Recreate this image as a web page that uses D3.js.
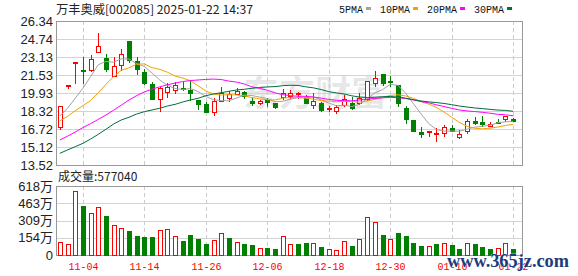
<!DOCTYPE html>
<html>
<head>
<meta charset="utf-8">
<script src="https://cdn.jsdelivr.net/npm/d3@7"></script>
<style>
  body { margin: 0; background: #fff; }
</style>
</head>
<body>
<div id="chart"></div>
<script>
// trading days shown on the K-line (60 sessions)
var dates = ["10-30","10-31","11-01","11-04","11-05","11-06","11-07","11-08","11-11","11-12",
  "11-13","11-14","11-15","11-18","11-19","11-20","11-21","11-22","11-25","11-26",
  "11-27","11-28","11-29","12-02","12-03","12-04","12-05","12-06","12-09","12-10",
  "12-11","12-12","12-13","12-16","12-17","12-18","12-19","12-20","12-23","12-24",
  "12-25","12-26","12-27","12-30","12-31","01-02","01-03","01-06","01-07","01-08",
  "01-09","01-10","01-13","01-14","01-15","01-16","01-17","01-20","01-21","01-22"];

var open = [16.88,20.55,22.60,22.00,21.95,23.62,23.02,21.47,22.42,24.55,
  22.78,21.77,20.73,19.37,19.99,20.20,20.37,20.20,19.31,18.95,
  18.21,19.25,19.51,19.81,20.05,19.25,19.01,19.31,19.01,19.60,
  19.66,19.87,19.60,18.89,19.07,18.55,18.36,18.86,19.07,19.01,
  19.40,20.85,21.59,20.97,20.61,18.57,17.53,16.42,16.43,16.38,
  16.34,16.79,15.98,16.55,17.47,17.38,17.02,17.35,17.59,17.62];
var high = [18.74,20.61,22.67,23.11,23.31,25.24,23.40,23.16,23.85,24.58,
  23.11,22.04,20.88,20.49,20.85,20.88,20.94,21.03,19.35,19.10,
  19.46,20.44,20.14,20.35,20.14,19.46,19.31,19.46,19.05,20.29,
  20.20,20.05,19.75,19.90,19.10,18.78,18.86,19.75,19.60,19.96,
  21.00,21.89,21.62,21.40,20.61,18.77,17.55,16.88,16.57,16.79,
  17.08,17.08,16.64,17.59,17.77,17.88,17.32,17.59,17.90,17.74];
var low = [16.70,20.35,20.85,20.85,21.89,23.60,21.89,21.45,21.98,22.72,
  21.59,20.70,19.40,18.35,19.60,19.90,20.20,19.31,18.48,18.25,
  17.97,19.25,19.25,19.81,19.46,18.86,18.95,18.78,18.57,19.37,
  19.46,19.46,19.05,18.57,18.36,18.36,18.18,18.80,18.50,18.95,
  19.31,20.55,20.60,20.55,18.80,17.23,16.55,16.04,16.13,15.68,
  16.10,16.55,15.96,16.34,17.17,16.99,17.02,17.26,17.47,17.47];
var close = [18.74,20.61,22.67,21.93,22.93,24.12,22.04,22.33,23.43,22.87,
  22.04,20.79,19.42,20.35,20.44,20.64,20.33,19.90,18.95,18.27,
  19.25,19.90,19.81,20.11,19.66,19.01,19.25,19.10,18.71,19.90,
  19.96,19.90,19.07,19.22,18.42,18.57,18.66,19.37,18.57,19.46,
  20.99,21.29,20.85,20.92,19.01,17.59,16.58,16.30,16.55,16.40,
  16.88,16.58,16.25,17.44,17.29,17.20,17.17,17.29,17.88,17.47];

// volume, in 万 (10k lots)
var volume = [119,98.5,573,439,373,433,349,266,239,215,
  170,161,161,221,230,167,128,179,143,98.5,
  134,197,152,116,98.5,89.6,60,63,54,170,
  98.5,98.5,107,107,72,51,45,125,81,143,
  340,296,179,143,197,170,107,81,78,98.5,
  107,90,54,107,98.5,72,54,60,107,57.704];

var ma5 = [17.88,18.57,19.46,20.35,21.38,22.45,22.74,22.67,22.97,22.96,
  22.54,22.29,21.71,21.09,20.61,20.33,20.24,20.33,20.05,19.62,
  19.34,19.25,19.24,19.47,19.75,19.70,19.57,19.43,19.15,19.19,
  19.38,19.51,19.51,19.61,19.31,19.04,18.79,18.85,18.72,18.93,
  19.41,19.94,20.23,20.70,20.61,19.93,18.99,18.08,17.21,16.68,
  16.54,16.54,16.53,16.71,16.89,16.96,17.07,17.28,17.37,17.40];
var ma10 = [17.45,17.85,18.35,18.80,19.25,19.95,20.70,21.40,21.95,22.17,
  22.50,22.52,22.19,22.03,21.78,21.44,21.26,21.02,20.57,20.11,
  19.83,19.75,19.78,19.76,19.68,19.52,19.41,19.33,19.31,19.47,
  19.54,19.54,19.47,19.38,19.25,19.21,19.15,19.18,19.16,19.12,
  19.22,19.36,19.54,19.71,19.77,19.67,19.46,19.16,18.95,18.65,
  18.24,17.77,17.31,16.96,16.79,16.74,16.80,16.90,17.04,17.14];
var ma20 = [15.75,16.08,16.45,16.85,17.20,17.58,17.97,18.40,18.85,19.30,
  19.70,20.02,20.28,20.48,20.66,20.82,20.95,21.04,21.09,21.14,
  21.17,21.13,20.99,20.90,20.73,20.48,20.34,20.18,19.94,19.79,
  19.69,19.64,19.63,19.57,19.47,19.36,19.28,19.25,19.24,19.30,
  19.38,19.45,19.50,19.54,19.51,19.44,19.31,19.17,19.06,18.88,
  18.73,18.56,18.42,18.33,18.28,18.21,18.13,18.03,17.99,17.90];
var ma30 = [14.56,14.86,15.15,15.45,15.83,16.25,16.70,17.17,17.53,17.77,
  18.06,18.27,18.42,18.57,18.77,18.92,19.13,19.31,19.46,19.69,
  19.84,19.96,20.08,20.20,20.26,20.35,20.42,20.47,20.50,20.58,
  20.62,20.60,20.48,20.39,20.24,20.05,19.94,19.84,19.68,19.57,
  19.53,19.55,19.60,19.62,19.57,19.47,19.34,19.22,19.14,19.08,
  19.00,18.89,18.77,18.68,18.60,18.54,18.47,18.41,18.38,18.30];

var priceTicks = ["26.34","24.74","23.13","21.53","19.93","18.32","16.72","15.12","13.52"];
var volTicks = ["618万","463万","309万","154万","0"];
var dateTicks = ["11-04","11-14","11-26","12-06","12-18","12-30","01-10","01-22"];
var maNames = ["5PMA","10PMA","20PMA","30PMA"];
var maColors = ["#a3a3a3","#f3a200","#ff00ff","#006e3a"];

var stockName = "万丰奥威[002085]";
var stamp = "2025-01-22 14:37";

var width = 578, height = 276;
var left = 56, right = 522;
var priceTop = 21, priceBottom = 165;
var volTop = 186, volBottom = 255;
var red = "#ff0000", green = "#008000";

var svg = d3.select("#chart").append("svg")
  .attr("width", width)
  .attr("height", height)
  .style("font-family", "'Liberation Sans', 'Noto Sans CJK SC', sans-serif");

var x = d3.scaleBand().domain(d3.range(dates.length)).range([left, 517]);
function cx(i) { return Math.round(x(i) + x.bandwidth() / 2); }

var priceVals = priceTicks.map(Number);
var y = d3.scaleLinear()
  .domain([d3.min(priceVals), d3.max(priceVals)])
  .range([priceBottom, priceTop]);

var volVals = volTicks.map(function (t) { return parseFloat(t); });
var yv = d3.scaleLinear()
  .domain([0, d3.max(volVals)])
  .range([volBottom, volTop]);

// watermark in the middle of the price panel
svg.append("text")
  .attr("x", 243).attr("y", 106)
  .attr("font-family", "'Noto Sans CJK SC'")
  .attr("font-weight", "bold")
  .attr("font-size", 35)
  .attr("fill", "#000")
  .attr("fill-opacity", 0.1)
  .attr("textLength", 144)
  .attr("lengthAdjust", "spacingAndGlyphs")
  .text("东方财富");

// horizontal grid
svg.append("g").selectAll("line")
  .data(priceVals.slice(1, -1))
  .enter().append("line")
  .attr("x1", left).attr("x2", right)
  .attr("y1", function (d) { return Math.round(y(d)) + 0.5; })
  .attr("y2", function (d) { return Math.round(y(d)) + 0.5; })
  .attr("stroke", "#d3d3d3");

svg.append("g").selectAll("line")
  .data(volVals.slice(1, -1))
  .enter().append("line")
  .attr("x1", left).attr("x2", right)
  .attr("y1", function (d) { return Math.round(yv(d)) + 0.5; })
  .attr("y2", function (d) { return Math.round(yv(d)) + 0.5; })
  .attr("stroke", "#d3d3d3");

// dashed date lines in both panels
var tickIdx = dateTicks.map(function (t) { return dates.indexOf(t); });
[[priceTop, priceBottom], [volTop, volBottom]].forEach(function (p) {
  svg.append("g").selectAll("line")
    .data(tickIdx)
    .enter().append("line")
    .attr("x1", function (i) { return cx(i) + 0.5; })
    .attr("x2", function (i) { return cx(i) + 0.5; })
    .attr("y1", p[0]).attr("y2", p[1])
    .attr("stroke", "#cccccc")
    .attr("stroke-dasharray", "4,3");
});

// panel frames
[[priceTop, priceBottom], [volTop, volBottom]].forEach(function (p) {
  svg.append("rect")
    .attr("x", left + 0.5).attr("y", p[0] + 0.5)
    .attr("width", right - left).attr("height", p[1] - p[0])
    .attr("fill", "none")
    .attr("stroke", "#999");
});

// candles
var rows = dates.map(function (d, i) {
  return { i: i, o: open[i], h: high[i], l: low[i], c: close[i], v: volume[i],
    volUp: i === 0 ? close[i] >= open[i] : close[i] >= close[i - 1] };
});

var candle = svg.append("g").selectAll("g")
  .data(rows)
  .enter().append("g");

candle.append("line")
  .attr("x1", function (d) { return cx(d.i) + 0.5; })
  .attr("x2", function (d) { return cx(d.i) + 0.5; })
  .attr("y1", function (d) { return Math.round(y(d.h)); })
  .attr("y2", function (d) { return Math.round(y(d.l)) + 1; })
  .attr("stroke", function (d) { return d.c >= d.o ? red : green; });

candle.append("rect")
  .attr("x", function (d) { return cx(d.i) - 2 + 0.5; })
  .attr("y", function (d) { return Math.round(y(Math.max(d.o, d.c))) + 0.5; })
  .attr("width", 4)
  .attr("height", function (d) {
    return Math.max(1, Math.round(y(Math.min(d.o, d.c))) - Math.round(y(Math.max(d.o, d.c))));
  })
  .attr("fill", function (d) { return d.c >= d.o ? "#fff" : green; })
  .attr("stroke", function (d) { return d.c >= d.o ? red : green; });

// moving averages
var line = d3.line()
  .x(function (d, i) { return x(i) + x.bandwidth() / 2; })
  .y(function (d) { return y(d); });

[ma5, ma10, ma20, ma30].forEach(function (s, k) {
  svg.append("path")
    .attr("d", line(s))
    .attr("fill", "none")
    .attr("stroke", maColors[k])
    .attr("stroke-width", 1);
});

// volume bars
svg.append("g").selectAll("rect")
  .data(rows)
  .enter().append("rect")
  .attr("x", function (d) { return cx(d.i) - 2 + 0.5; })
  .attr("y", function (d) { return Math.round(yv(d.v)) + 0.5; })
  .attr("width", 4)
  .attr("height", function (d) { return volBottom - Math.round(yv(d.v)); })
  .attr("fill", function (d) { return d.volUp ? "#fff" : green; })
  .attr("stroke", function (d) { return d.volUp ? red : green; });

// axis labels
svg.append("g").selectAll("text")
  .data(priceTicks)
  .enter().append("text")
  .attr("x", 53)
  .attr("y", function (d) { return y(+d); })
  .attr("dy", "0.36em")
  .attr("text-anchor", "end")
  .attr("font-size", 13)
  .attr("fill", "#222")
  .text(function (d) { return d; });

svg.append("g").selectAll("text")
  .data(volTicks)
  .enter().append("text")
  .attr("x", 53)
  .attr("y", function (d) { return yv(parseFloat(d)); })
  .attr("dy", "0.36em")
  .attr("text-anchor", "end")
  .attr("font-size", 13)
  .attr("fill", "#222")
  .text(function (d) { return d; });

svg.append("g").selectAll("text")
  .data(tickIdx)
  .enter().append("text")
  .attr("x", function (i) { return cx(i) + 0.5; })
  .attr("y", 270)
  .attr("text-anchor", "middle")
  .attr("font-family", "'Liberation Mono', monospace")
  .attr("font-size", 10)
  .attr("fill", red)
  .text(function (i) { return dates[i]; });

// title and volume caption
svg.append("text")
  .attr("x", 56).attr("y", 14)
  .attr("font-family", "'Noto Sans CJK SC'")
  .attr("font-size", 12)
  .attr("fill", "#222")
  .attr("textLength", 197)
  .attr("lengthAdjust", "spacingAndGlyphs")
  .text(stockName + " " + stamp);

svg.append("text")
  .attr("x", 58).attr("y", 181)
  .attr("font-family", "'Noto Sans CJK SC'")
  .attr("font-size", 12)
  .attr("fill", "#222")
  .text("成交量:" + Math.round(volume[volume.length - 1] * 10000));

// legend
var lx = 339;
maNames.forEach(function (name, k) {
  var t = svg.append("text")
    .attr("x", lx).attr("y", 12.5)
    .attr("font-family", "'Liberation Mono', monospace")
    .attr("font-size", 10)
    .attr("fill", "#111")
    .text(name);
  var w = t.node().getComputedTextLength();
  svg.append("rect")
    .attr("x", lx + w + 3).attr("y", 7)
    .attr("width", 5).attr("height", 3)
    .attr("fill", maColors[k]);
  lx += w + 3 + 5 + 9;
});

// site stamp over the corner
svg.append("text")
  .attr("x", 447).attr("y", 267)
  .attr("font-family", "'Liberation Serif', serif")
  .attr("font-weight", "bold")
  .attr("font-size", 18)
  .attr("fill", "#1d3c7c")
  .attr("stroke", "#fff")
  .attr("stroke-width", 0.5)
  .attr("paint-order", "stroke")
  .attr("textLength", 122)
  .attr("lengthAdjust", "spacingAndGlyphs")
  .text("www.365jz.com");
</script>
</body>
</html>
